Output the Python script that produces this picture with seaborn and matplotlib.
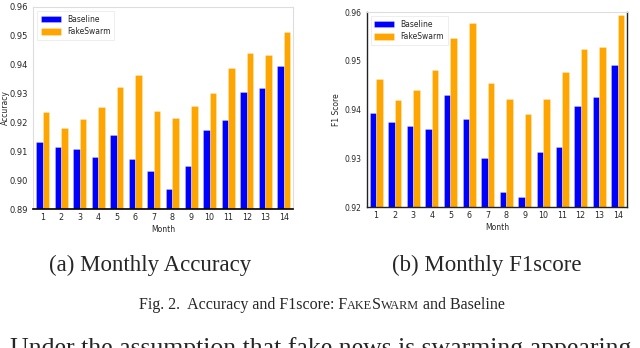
import pandas as pd
import numpy as np
import matplotlib.pyplot as plt
import seaborn as sns
from matplotlib.offsetbox import TextArea, HPacker, AnchoredOffsetbox

# values
months = [str(m) for m in range(1, 15)]
acc_baseline = [0.9132, 0.9116, 0.9109, 0.9080, 0.9158, 0.9073, 0.9031,
                0.8969, 0.9049, 0.9175, 0.9207, 0.9305, 0.9321, 0.9395]
acc_fakeswarm = [0.9236, 0.9180, 0.9211, 0.9253, 0.9324, 0.9364, 0.9240,
                 0.9217, 0.9256, 0.9301, 0.9389, 0.9439, 0.9435, 0.9512]
f1_baseline = [0.9393, 0.9374, 0.9366, 0.9361, 0.9430, 0.9381, 0.9301,
               0.9230, 0.9220, 0.9314, 0.9323, 0.9407, 0.9426, 0.9491]
f1_fakeswarm = [0.9462, 0.9419, 0.9440, 0.9482, 0.9548, 0.9578, 0.9455,
                0.9422, 0.9391, 0.9421, 0.9477, 0.9524, 0.9528, 0.9594]
acc_ticks = [0.89, 0.90, 0.91, 0.92, 0.93, 0.94, 0.95, 0.96]
f1_ticks = [0.92, 0.93, 0.94, 0.95, 0.96]
models = ['Baseline', 'FakeSwarm']

sns.set_style('white')
plt.rcParams['font.family'] = ['DejaVu Sans']

palette = {'Baseline': '#0000ff', 'FakeSwarm': '#ffa500'}

fig = plt.figure(figsize=(6.4, 3.48), dpi=100)
ax1 = fig.add_axes([0.052, 0.399, 0.406, 0.581])
ax2 = fig.add_axes([0.573, 0.405, 0.407, 0.56])


def draw_panel(ax, base, fake, ylabel, yticks, tick_size):
    df = pd.DataFrame({'Month': months * 2,
                       'Score': base + fake,
                       'Model': [models[0]] * len(base) + [models[1]] * len(fake)})
    sns.barplot(data=df, x='Month', y='Score', hue='Model', palette=palette,
                width=0.7, saturation=1, ax=ax,
                edgecolor=(1, 1, 1, 0.35), linewidth=0.5)
    ax.set_ylim(yticks[0], yticks[-1])
    ax.set_yticks(yticks)
    ax.set_yticklabels([f'{t:.2f}' for t in yticks])
    ax.tick_params(axis='y', labelsize=tick_size, length=2.5, width=0.6, pad=1.5)
    ax.tick_params(axis='x', labelsize=5.8, length=0, pad=3)
    ax.set_xlabel('Month', fontsize=5.5, labelpad=2)
    ax.set_ylabel(ylabel, fontsize=5.5, labelpad=2)
    leg = ax.legend(loc='upper left', fontsize=5.5, title=None, frameon=True,
                    handlelength=2.6, handleheight=0.9, borderpad=0.5,
                    labelspacing=0.45, fancybox=False)
    leg.get_frame().set_edgecolor('#e6e6e6')
    leg.get_frame().set_linewidth(0.6)


draw_panel(ax1, acc_baseline, acc_fakeswarm, 'Accuracy', acc_ticks, 6.0)
draw_panel(ax2, f1_baseline, f1_fakeswarm, 'F1 Score', f1_ticks, 5.5)
ax1.yaxis.set_label_coords(-0.088, 0.5)

for name, sp in ax1.spines.items():
    sp.set_color('#dddddd')
    sp.set_linewidth(0.8)
ax1.spines['bottom'].set_color('black')
ax1.spines['bottom'].set_linewidth(1.2)

for name, sp in ax2.spines.items():
    sp.set_color('#222222')
    sp.set_linewidth(1.0)
ax2.spines['top'].set_color('#dddddd')
ax2.spines['top'].set_linewidth(0.8)

# paper captions below the panels
serif = 'Liberation Serif'
fig.text(150 / 640, 1 - 265 / 348, '(a) Monthly Accuracy', family=serif,
         fontsize=16.5, ha='center', va='center')
fig.text(487 / 640, 1 - 265 / 348, '(b) Monthly F1score', family=serif,
         fontsize=16.5, ha='center', va='center')

parts = [('Fig. 2.  Accuracy and F1score: F', 11.5), ('AKE', 8.8), ('S', 11.5),
         ('WARM', 8.8), (' and Baseline', 11.5)]
boxes = [TextArea(t, textprops=dict(family=serif, fontsize=s)) for t, s in parts]
packed = HPacker(children=boxes, align='baseline', pad=0, sep=0)
cap = AnchoredOffsetbox(loc='center', child=packed, frameon=False,
                        bbox_to_anchor=(322 / 640, 1 - 305 / 348),
                        bbox_transform=fig.transFigure, borderpad=0, pad=0)
fig.add_artist(cap)

fig.text(10 / 640, 1 - 355 / 348, 'Under the assumption that fake news is swarming appearing',
         family=serif, fontsize=18.5, ha='left', va='baseline')

fig.savefig('out.png', dpi=100)
